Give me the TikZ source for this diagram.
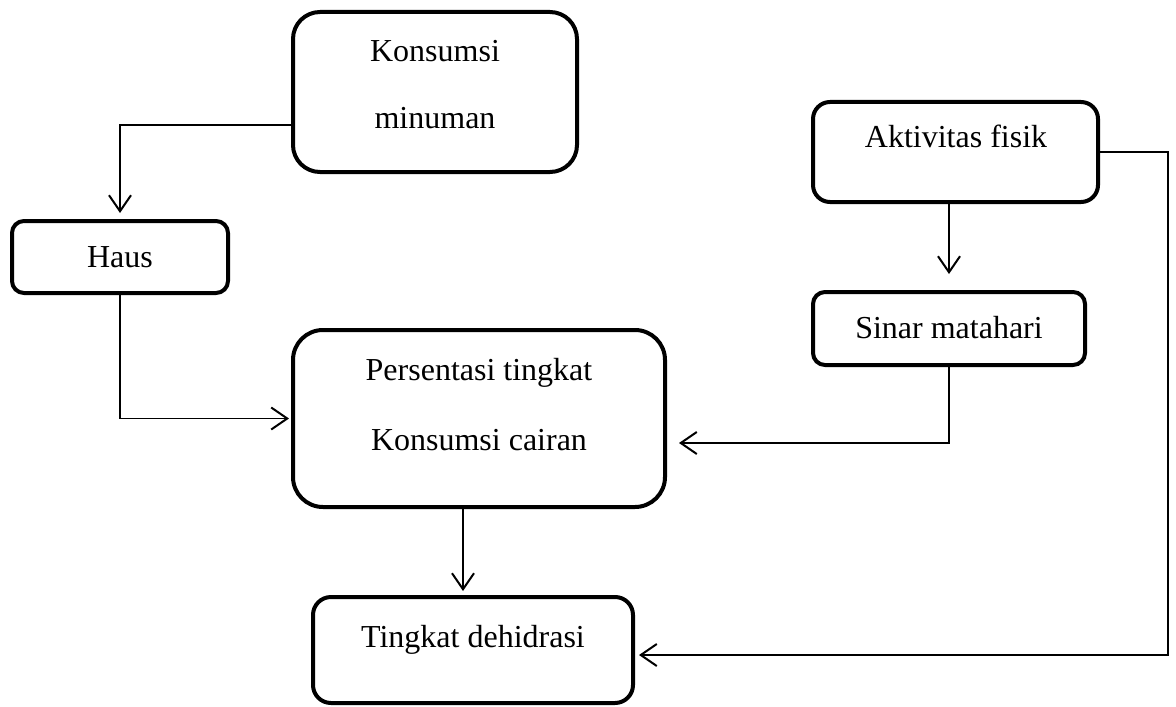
\documentclass[tikz,border=0pt]{standalone}
\usepackage{fontspec}
\setmainfont{Liberation Serif}
\usetikzlibrary{arrows.meta}
\tikzset{box/.style={draw, line width=2pt, inner sep=0pt},
  txt/.style={anchor=base, inner sep=0pt, font=\fontsize{16}{19}\selectfont},
  conn/.style={line width=0.8pt},
  arr/.style={conn, -{Straight Barb[length=8pt, width=11pt, line width=1pt]}}}
\begin{document}
\begin{tikzpicture}[x=0.5pt, y=-0.5pt]
    \useasboundingbox (0,0) rectangle (1176,706);
    % boxes
    \node [box, rounded corners=13.5pt, minimum width=142pt, minimum height=80pt] (kons) at (435,92) {};
    \node [box, rounded corners=6pt, minimum width=108pt, minimum height=36pt] (haus) at (120,257) {};
    \node [box, rounded corners=15pt, minimum width=186pt, minimum height=88.5pt] (pers) at (479,418.5) {};
    \node [box, rounded corners=8.5pt, minimum width=142.5pt, minimum height=50pt] (akt) at (955.5,152) {};
    \node [box, rounded corners=6pt, minimum width=136pt, minimum height=36.5pt] (sinar) at (949,328.5) {};
    \node [box, rounded corners=9pt, minimum width=160pt, minimum height=53pt] (ting) at (473,650) {};

    % texts
    \node [txt] (t-kons1) at (435,62) {Konsumsi};
    \node [txt] (t-kons2) at (435,128) {minuman};
    \node [txt] (t-haus) at (120,267) {Haus};
    \node [txt] (t-pers1) at (479,380) {Persentasi tingkat};
    \node [txt] (t-pers2) at (479,450) {Konsumsi cairan};
    \node [txt] (t-akt) at (956,148) {Aktivitas fisik};
    \node [txt] (t-sinar) at (949,338) {Sinar matahari};
    \node [txt] (t-ting) at (473,647) {Tingkat dehidrasi};

    % connectors
    \coordinate (rgt) at (1168,152);
    \draw [arr, shorten >=3pt] (kons.west |- 0,125) -| (haus.north);
    \draw [arr, shorten >=1pt] (haus.south) |- (pers.west);
    \draw [arr, shorten >=2pt] (pers.south -| 463,0) -- (ting.north -| 463,0);
    \draw [arr, shorten >=8pt] (akt.south -| sinar.north) -- (sinar.north);
    \draw [arr, shorten >=6pt] (sinar.south) |- (pers.east |- 0,443);
    \draw [arr, shorten >=2pt] (akt.east) -- (akt.east -| rgt) -- (rgt |- 0,655) -- (ting.east |- 0,655);
\end{tikzpicture}
\end{document}
